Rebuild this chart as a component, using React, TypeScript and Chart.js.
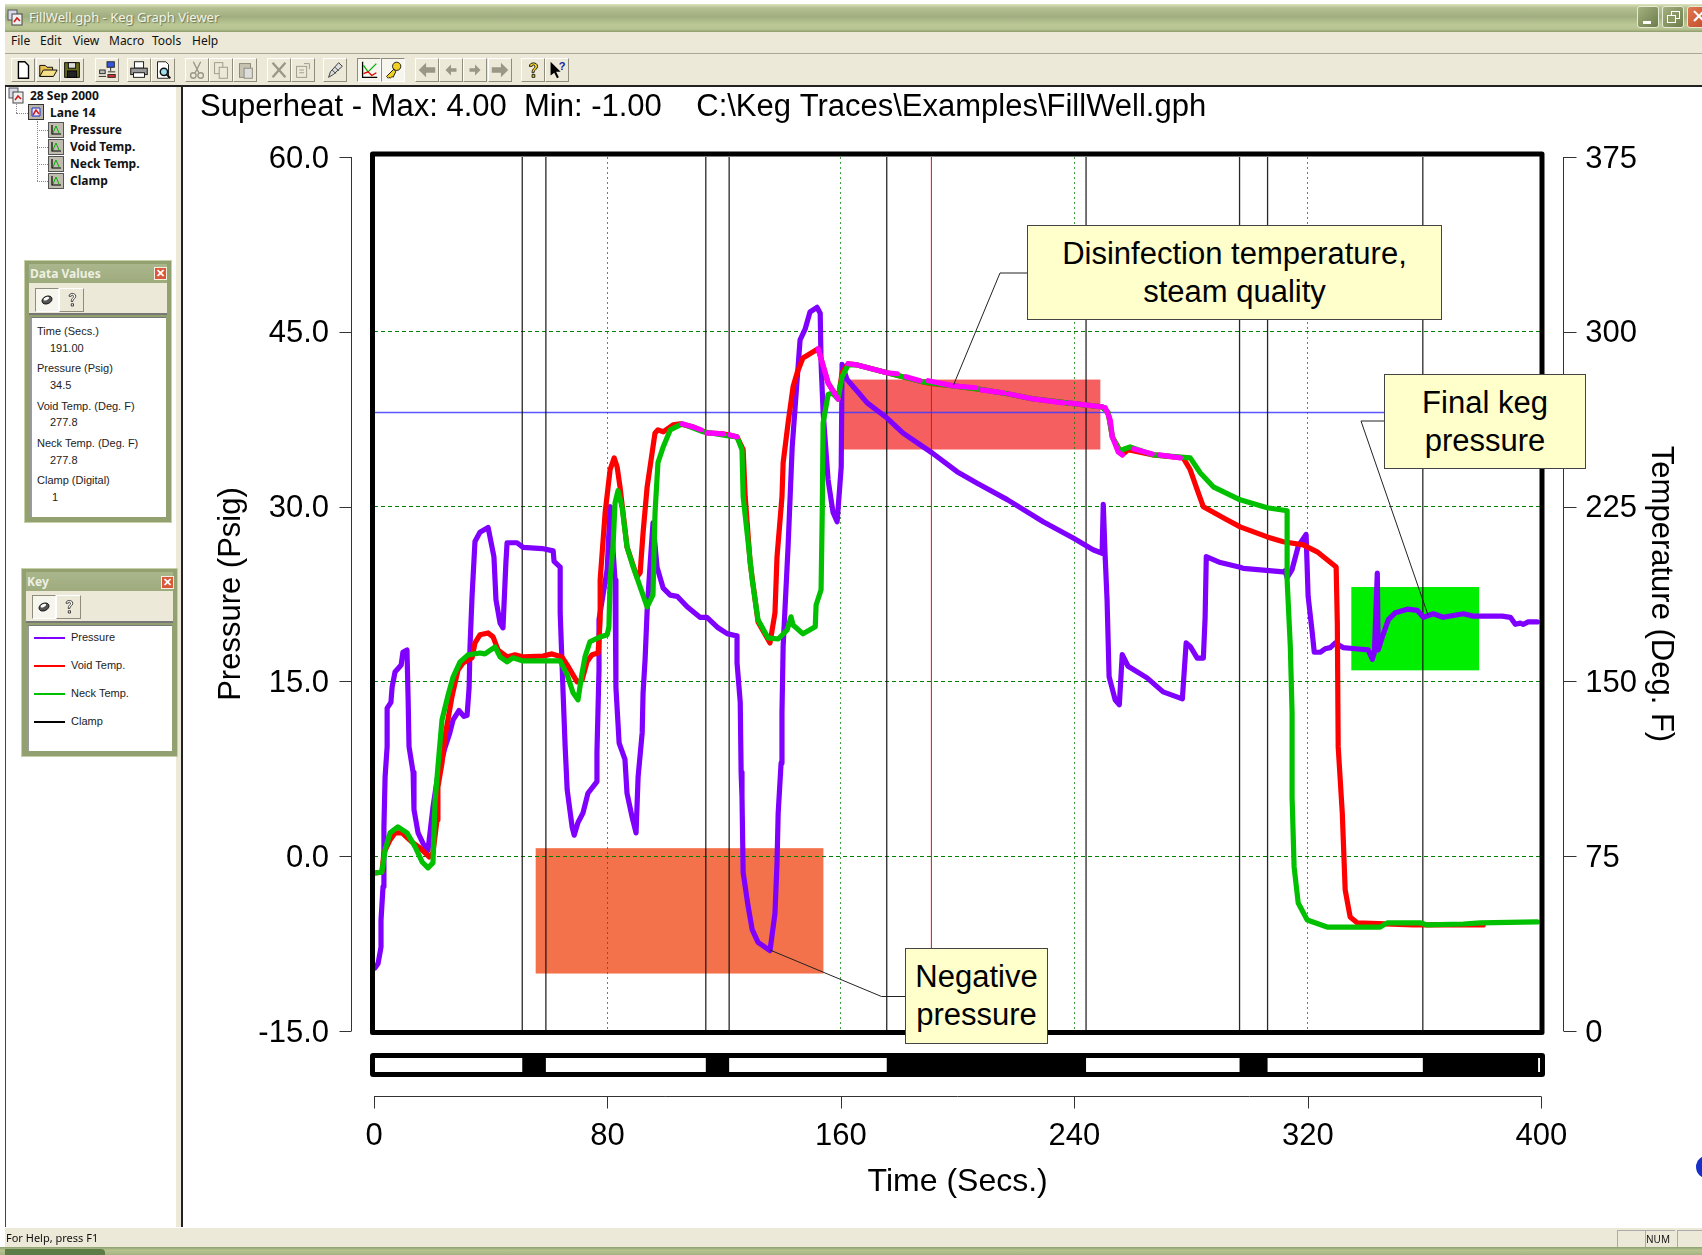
import React, { useEffect, useRef } from "react";
import { Chart, registerables } from "chart.js";

Chart.register(...registerables);

const pressureTime = [0.3,1.4,2.4,2.4,3.1,3.4,3.8,4.5,4.5,5.8,6.2,7.2,9.3,9.9,11.3,11.7,12,13.4,13.7,15.1,16.8,18.5,20.2,21.9,24.3,26,27.1,29.1,30.8,31.9,32.6,32.9,33.6,34.6,36.3,39.1,41.1,41.8,43.2,44.2,45.2,45.6,49,51.1,57.6,61.4,61.7,63.8,63.8,64.8,65.5,66.2,67.9,68.6,69.9,71.6,73.3,76.4,76.4,77.1,77.1,79.9,80.9,82.6,82.9,84,86,86.7,88.4,89.8,90.5,91.9,92.2,92.9,93.6,94.6,95.6,97,99.1,101.5,103.9,107.3,111.7,114.1,117.9,121,124.4,124.4,125.5,125.8,126.1,126.5,128.2,129.6,131.6,135.7,137.4,138.1,138.5,139.5,139.8,140.2,141.9,143.3,145,146,147.7,149.4,151.8,152.9,153.2,153.9,155.6,157.3,158.7,160.1,160.4,162.1,165.6,169,175.8,181.3,191.3,199.8,206.7,217,229.3,239.6,246.4,249.5,249.9,250.5,251.2,251.9,254,255.4,256.4,258.4,264.9,270.4,277,278.3,279.7,282.1,284.2,284.8,285.2,290,296.8,297.9,311.6,312.2,312.9,314.6,316.7,319.4,320.1,321.5,322.2,324.2,325.9,327.7,329.4,332.1,336.2,340.7,342.1,342.8,343.8,344.1,345.5,347.6,350,354.1,357.5,359.6,363,366.4,373.3,376.7,386.6,389.4,391.1,392.8,393.8,395.5,398.6];
const pressureValues = [-9.6,-9.2,-7.8,-5.5,-2.6,2.5,6.8,9.4,12.7,13.2,14.5,15.8,16.4,17.5,17.7,13.4,9.4,7.2,4,2,1.1,0.5,4.2,7,9.3,10.6,11.7,12.5,12,12.1,14.5,18,22.3,27,27.8,28.2,25.7,22,20,19.6,25.2,26.9,26.9,26.5,26.4,26.2,25.3,24.8,20.9,14,9.4,5.7,2.5,1.8,2.9,3.7,5.4,6.4,8.9,16,20.3,24.6,30,23.7,14.5,9.7,8.3,5.4,3.4,2,6.8,10.6,14,16.9,21.1,25,28.6,24.8,23,22.4,22.3,21.4,20.5,20.5,19.6,19.1,18.9,16.6,13.2,7.2,5.1,-1.4,-4.3,-6.3,-7.4,-8.1,-4.9,-0.6,3.7,8,12.3,18,26.6,35.1,40.9,44.3,45.2,46.7,47.1,46.6,42.3,38.1,32.3,29.5,28.7,33.4,42.2,40.9,39.9,38.9,37.6,36.3,34.6,33,32,30.6,28.7,27.3,26.3,26,30.2,26,22,15.4,13.4,13,17.3,16.3,15.3,14.1,13.5,18.3,18,17,17,20.5,25.7,25.2,24.8,24.7,24.4,24.5,23.9,24.6,26.6,27.6,22.3,19.2,17.5,17.5,17.8,17.9,18.3,17.9,17.8,17.7,16.9,17.5,24.3,17.7,18.8,20.3,20.9,21.2,21.1,20.5,20.8,20.5,20.8,20.6,20.6,20.5,19.9,20,19.9,20.1,20.1];

const voidTime = [0.3,2.7,3.4,5.5,7.2,9.6,13,15.8,18.9,20.2,21.6,21.9,23.3,24.3,26.7,28.8,30.5,33.6,34.6,36.3,39.1,40.8,42.5,45.6,48.3,51.1,57.9,61,64.4,66.2,69.6,71.3,73,74.7,76.8,77.5,77.5,79.2,80.9,82.3,83.3,84.3,86.7,90.1,91.2,92.2,93.6,95.3,96.3,97.3,99.1,102.5,104.9,109.3,114.1,119.6,124.4,126.5,127.2,128.9,130.6,131.6,135.7,137.4,138.1,139.8,140.2,141.9,143.6,145,147,152.2,153.6,155.6,159,160.4,162.5,165.6,175.8,188.2,191.3,198.5,206.7,217,225.9,237.5,249.5,251.6,253,256.4,258.4,267,277.3,279.7,282.1,284.2,291,296.8,306.1,311.6,318.4,323.2,329.7,330.1,330.4,331.8,332.8,334.5,336.9,356.1,380.1];
const voidValues = [67.8,68.2,76.4,82,85,85,81.1,78.5,74.7,76.4,90.6,104.7,115,126.2,143.3,154.9,157.9,160.1,166.5,170,170.8,169.1,163.5,160.5,161.4,160.5,160.9,161.8,160.5,157.1,149.8,150.6,158.4,161.4,162.2,176.4,193.6,222.3,240.8,245.9,242.1,233.5,207.7,194.8,196.6,213.7,233.5,248.1,256.6,257.9,257.1,260.1,260.5,259.2,256.6,256.2,254.9,249.4,229.2,200.9,185,175.5,166.5,179.4,203.4,229.2,243.8,260.9,276.4,282.4,288.8,292.7,286.7,278.1,271.2,282.4,286.3,285.8,282.4,278.5,277.7,276.8,275.5,273.4,271.2,269.5,267.8,265.2,254.9,247.2,249.4,247.2,245.9,240.8,232.2,224.9,220.2,216.3,212,209.9,208.6,205.6,199.1,175.1,121.9,93.6,60.5,48.9,46.4,45.5,45.5];

const neckTime = [0.3,2.7,3.8,5.5,8.2,11.3,14.1,16.5,18.5,20.2,20.9,21.9,23.3,25.4,27.1,29.5,32.2,36.3,38,41.5,43.2,45.6,47.6,51.1,63.8,66.2,68.2,69.9,71.3,72.3,74,77.5,79.9,80.5,80.9,81.9,82.6,83.6,85,86.7,88.8,93.6,95.6,96.3,97.3,99.1,101.5,105.6,112.8,121,124.4,126.1,126.5,129.6,131.6,135,138.5,141.6,142.9,143.6,147,151.2,151.5,153.2,153.6,153.9,155.6,157,159,160.4,162.5,165.6,175.8,188.2,198.5,206.7,217,225.9,237.5,249.5,251.6,253,255.7,256.4,259.1,267,279.7,283.1,287.6,296.8,306.1,312.9,312.9,314,314.6,314.6,315.3,316.7,319.8,326.6,344.8,347.2,358.5,360.9,373.3,379.1,398.6];
const neckValues = [67.8,68.2,77.7,85,87.6,85,79,72.5,70,72.1,97.9,113.3,133.5,144.2,151.9,158.4,161.4,162.2,161.8,164.8,160.5,158.4,160.1,158.8,158.8,152.8,145.1,142.1,153.6,160.5,167,169.1,170,173.4,193.6,207.7,226.6,231.8,224.9,207.7,199.1,182,187.1,222.3,243.8,250.6,257.9,260.5,257.1,255.4,254.9,249.4,229.2,193.6,176.4,168.7,168.2,172.1,177.7,174.2,170.4,173.4,182.8,189.3,222.3,260.9,273,273.8,271.2,280.7,285.8,285.8,282.4,278.5,276.8,275.5,273.4,271.2,269.5,267.8,265.2,254.9,248.5,249.4,250.6,247.2,245.9,239.5,233.5,227.9,224.5,223.2,193.6,164.8,136.5,100.4,70.4,54.9,47.6,44.6,44.6,46.4,46.4,45.5,45.9,46.4,46.8];

const superheatTime = [105.6,109.3,112.1,113,114.1,119.6,120.5,121.7,124.4,130,152.2,153.6,155.6,157.7,159,161,162.5,165.6,175.8,179.3,181,182.3,187.1,188.5,189.9,198.5,206.3,207,208.1,215.6,216.5,217.3,225.9,236.2,237,237.9,249.5,250,250.6,252.3,253,255,256.4,258,260.2,266.7,268,269.1,276.3];
const superheatValues = [260.5,259.2,257.9,null,256.6,256.2,null,255.8,254.9,null,292.7,286.7,278.1,273.8,271.2,null,286.3,285.8,282.4,282,null,280.7,279,null,279,276.8,276,null,275.1,273.8,null,273.4,271.2,269.5,null,269.5,267.8,null,267.4,262.2,254.9,248.5,247.2,null,249.8,247.6,null,247.2,245.9];

const clampTime = [0,50.8,58.9,113.7,121.7,175.7,244,296.6,306.2,359.4,398.9,400];
const clampState = [0,1,0,1,0,1,0,1,0,1,0,0];

const cursorTime = 191;
const finalPressureLine = 38.07;

const bandNames = ["Negative pressure", "Disinfection", "Final keg pressure"];
const bandTimeStart = [55.4, 160.3, 334.9];
const bandTimeEnd = [154, 248.9, 378.7];
const bandPressureLow = [-10.07, 34.9, 15.95];
const bandPressureHigh = [0.69, 40.9, 23.1];
const bandColors = ["#F4724B", "#F55F5F", "#00EE00"];

const pressureTicks = { min: -15, max: 60, step: 15 };
const temperatureTicks = { min: 0, max: 375, step: 75 };
const timeTicks = { min: 0, max: 400, step: 80 };

const zip = (xs: number[], ys: (number | null)[]) => xs.map((x, i) => ({ x, y: ys[i] }));

const SANS = '"Liberation Sans", Arial, sans-serif';
const UI = '"Noto Sans", Tahoma, sans-serif';
const BEIGE = "#ECE9D8";

const bandsPlugin = {
  id: "bands",
  beforeDraw(chart: any) {
    const { ctx, scales } = chart;
    bandNames.forEach((_, i) => {
      const x1 = scales.x.getPixelForValue(bandTimeStart[i]);
      const x2 = scales.x.getPixelForValue(bandTimeEnd[i]);
      const y1 = scales.y.getPixelForValue(bandPressureHigh[i]);
      const y2 = scales.y.getPixelForValue(bandPressureLow[i]);
      ctx.fillStyle = bandColors[i];
      ctx.fillRect(x1, y1, x2 - x1, y2 - y1);
    });
  },
};

const framePlugin = {
  id: "frame",
  afterDatasetsDraw(chart: any) {
    const { ctx, chartArea: a } = chart;
    ctx.save();
    ctx.strokeStyle = "#000";
    ctx.lineWidth = 5;
    ctx.lineJoin = "round";
    ctx.strokeRect(a.left - 1.5, a.top - 3, a.right - a.left + 2.2, a.bottom - a.top + 4.5);
    ctx.restore();
  },
  afterDraw(chart: any) {
    const { ctx, chartArea: a, scales } = chart;
    const lx = Math.round(a.left - 23) + 0.5;
    const rx = Math.round(a.right + 22) + 0.5;
    const by = Math.round(a.bottom + 65) + 0.5;
    ctx.save();
    ctx.strokeStyle = "#333";
    ctx.lineWidth = 1;
    ctx.beginPath();
    ctx.moveTo(lx, a.top);
    ctx.lineTo(lx, a.bottom);
    scales.y.ticks.forEach((t: any) => {
      const y = Math.round(scales.y.getPixelForValue(t.value)) + 0.5;
      ctx.moveTo(lx, y);
      ctx.lineTo(lx - 12, y);
    });
    ctx.moveTo(rx, a.top);
    ctx.lineTo(rx, a.bottom);
    scales.yTemp.ticks.forEach((t: any) => {
      const y = Math.round(scales.yTemp.getPixelForValue(t.value)) + 0.5;
      ctx.moveTo(rx, y);
      ctx.lineTo(rx + 13, y);
    });
    ctx.moveTo(a.left, by);
    ctx.lineTo(a.right, by);
    scales.x.ticks.forEach((t: any) => {
      const x = Math.round(scales.x.getPixelForValue(t.value)) + 0.5;
      ctx.moveTo(x, by);
      ctx.lineTo(x, by + 12);
    });
    ctx.stroke();
    ctx.restore();
  },
};

const abs = (left: number, top: number, width: number, height: number, extra: any = {}): any => ({
  position: "absolute", left, top, width, height, boxSizing: "border-box", ...extra,
});

function Label({ x, y, text, size = 12, bold = false, color = "#111", font = UI, shadow }: any) {
  return (
    <div style={{ position: "absolute", left: x, top: y, transform: "translateY(-50%)", whiteSpace: "pre", fontFamily: font, fontSize: size, fontWeight: bold ? 700 : 400, color, lineHeight: 1.2, textShadow: shadow }}>
      {text}
    </div>
  );
}

const raised = { background: BEIGE, borderTop: "1px solid #fff", borderLeft: "1px solid #fff", borderBottom: "1px solid #8f8c7c", borderRight: "1px solid #8f8c7c" };
const pressed = { background: "#F6F5EE", borderTop: "1px solid #8f8c7c", borderLeft: "1px solid #8f8c7c", borderBottom: "1px solid #fff", borderRight: "1px solid #fff" };

const icons: Record<string, any> = {
  new: <path d="M7 3h7l4 4v14H7z" fill="#fff" stroke="#000" strokeWidth="1.5" />,
  open: <g stroke="#000"><path d="M3 19V7h6l2 2h6v10z" fill="#E8C050" /><path d="M3 19l4-7h15l-4 7z" fill="#F6E08A" /></g>,
  save: <g stroke="#000"><rect x="4" y="4" width="16" height="16" fill="#6B6B20" /><rect x="8" y="4" width="8" height="6" fill="#ddd" /><rect x="7" y="13" width="10" height="7" fill="#222" /></g>,
  net: <g stroke="#222"><rect x="12" y="3" width="8" height="6" fill="#3355dd" /><rect x="4" y="12" width="6" height="4" fill="#bbb" /><path d="M16 9v4M3 19h8M13 14h8" /><rect x="13" y="17" width="8" height="3" fill="#d33" /></g>,
  print: <g stroke="#111"><rect x="7" y="3" width="10" height="7" fill="#fff" /><rect x="3" y="10" width="18" height="7" fill="#999" /><rect x="6" y="15" width="12" height="5" fill="#fff" /></g>,
  preview: <g stroke="#111"><path d="M6 3h9l3 3v15H6z" fill="#fff" /><circle cx="13" cy="14" r="4" fill="#9fe0ee" strokeWidth="1.6" /><path d="M16 17l4 4" strokeWidth="2" /></g>,
  cut: <g stroke="#9a9786" fill="none" strokeWidth="1.5"><path d="M8 3l6 12M16 3l-6 12" /><circle cx="8" cy="18" r="3" /><circle cx="16" cy="18" r="3" /></g>,
  copy: <g stroke="#9a9786" fill="#ECE9D8"><rect x="5" y="4" width="9" height="12" /><rect x="10" y="9" width="9" height="12" /></g>,
  paste: <g stroke="#8a8776" fill="#c6c3b2"><rect x="6" y="5" width="12" height="15" /><rect x="11" y="10" width="9" height="11" fill="#ddd" /></g>,
  del: <path d="M5 4l14 16M19 4L5 20" stroke="#9a9786" strokeWidth="2.5" />,
  props: <g stroke="#9a9786" fill="#ECE9D8"><rect x="5" y="8" width="11" height="12" /><path d="M13 5l6 0 0 6" fill="none" /><path d="M8 12h5M8 15h5" /></g>,
  pencil: <g stroke="#333" fill="#ddd"><path d="M5 20l2-6L16 4l4 4-10 9z" /><path d="M9 12l4 4M12 9l4 4" /></g>,
  chart: <g fill="none" strokeWidth="1.4"><path d="M5 3v17h16" stroke="#000" /><path d="M6 7l5 7 3-3 6-6" stroke="#00b000" /><path d="M6 16l5-2 4 4 5-3" stroke="#e00000" /></g>,
  key: <g stroke="#111"><circle cx="16" cy="8" r="4.5" fill="#F0D020" /><path d="M13 11L5 19l2 2 1-1 1 1 2-2 1 1 3-6z" fill="#F0D020" /></g>,
  arrowL2: <path d="M3 12l8-8v5h10v6H11v5z" fill="#9a9786" />,
  arrowL: <path d="M6 12l6-6v4h6v4h-6v4z" fill="#9a9786" />,
  arrowR: <path d="M18 12l-6-6v4H6v4h6v4z" fill="#9a9786" />,
  arrowR2: <path d="M21 12l-8-8v5H3v6h10v5z" fill="#9a9786" />,
  help: <path d="M8 8c0-5 9-5 9 0 0 4-4 3-4 7h-2c0-5 3-4 3-7 0-2-3-2-3 0zM11 17h3v3h-3z" fill="#F0D020" stroke="#111" />,
  helpArrow: <g><path d="M5 3v15l4-3 3 6 2-1-3-6h5z" fill="#000" /><text x="14" y="12" fontSize="12" fontWeight="700" fill="#1020a0" fontFamily={SANS}>?</text></g>,
  blob: <g><ellipse cx="12" cy="12" rx="7" ry="5" fill="#555" stroke="#000" transform="rotate(-25 12 12)" /><ellipse cx="12" cy="10" rx="4" ry="2" fill="#fff" transform="rotate(-25 12 12)" /></g>,
  tip: <path d="M8 7c0-5 9-5 9 0 0 4-4 3-4 7h-2c0-5 3-4 3-7 0-2-3-2-3 0zM11 17h3v3h-3z" fill="#fff" stroke="#111" />,
};

function Button({ x, y = 58, w = 24, h = 24, icon, down = false, size = 22 }: any) {
  return (
    <div style={{ ...abs(x, y, w, h), ...(down ? pressed : raised), display: "flex", alignItems: "center", justifyContent: "center" }}>
      <svg width={size} height={size} viewBox="0 0 24 24">{icons[icon]}</svg>
    </div>
  );
}

const toolbar: [number, string, boolean?][] = [
  [11, "new"], [36, "open"], [60, "save"], [95, "net"], [127, "print"], [151, "preview"],
  [185, "cut"], [209, "copy"], [233, "paste"], [267, "del"], [291, "props"], [323, "pencil"],
  [357, "chart", true], [381, "key", true], [415, "arrowL2"], [439, "arrowL"], [463, "arrowR"], [488, "arrowR2"],
  [521, "help"], [545, "helpArrow"],
];

function CloseBox({ x, y, w = 13, h = 13 }: any) {
  return (
    <div style={{ ...abs(x, y, w, h), background: "#D9583A", border: "1px solid #f4f0e0", color: "#fff", fontFamily: SANS, fontWeight: 700, fontSize: 11, lineHeight: "11px", textAlign: "center" }}>✕</div>
  );
}

function Panel({ x, y, w, h, title, headerH, barH, close, children }: any) {
  return (
    <div style={{ ...abs(x, y, w, h), background: "#93A070", border: "1px solid #C8D0A8" }}>
      <div style={abs(4, 3, w - 10, headerH, { background: "linear-gradient(#AAB68C,#9DAA7C)" })} />
      <div style={abs(4, headerH + 2, w - 10, barH, { background: BEIGE, borderBottom: "2px solid #777" })} />
      <Label x={5} y={headerH / 2 + 3} text={title} bold color="#EEF0E2" size={12} />
      <div style={abs(5, headerH + barH + 4, w - 12, h - headerH - barH - 11, { background: "#fff", borderLeft: "2px solid #9a9a9a", borderTop: "1px solid #777" })}>{children}</div>
      {close}
    </div>
  );
}

function TreeIcon({ x, y, kind }: any) {
  return (
    <svg style={{ position: "absolute", left: x, top: y }} width={17} height={17} viewBox="0 0 17 17">
      {kind === "leaf" ? (
        <g>
          <rect x="0.5" y="0.5" width="15" height="15" fill="#C0BDB0" stroke="#555" />
          <path d="M4 3v9h9" fill="none" stroke="#000" strokeWidth="1.2" />
          <path d="M5 11l3-7 3 7" fill="none" stroke="#00B000" />
        </g>
      ) : kind === "lane" ? (
        <g>
          <rect x="0.5" y="0.5" width="15" height="15" fill="#B8B5A8" stroke="#333" />
          <path d="M4 4h8v8H4z" fill="#E8E8F8" stroke="#2030C0" />
          <path d="M5 11l3-5 3 4" fill="none" stroke="#D01818" strokeWidth="1.5" />
        </g>
      ) : (
        <g>
          <rect x="1" y="1" width="9" height="10" fill="#D8D8E8" stroke="#555" />
          <rect x="5" y="5" width="10" height="11" fill="#F0F0F0" stroke="#444" />
          <path d="M7 13l3-4 3 3" fill="none" stroke="#D01818" strokeWidth="1.5" />
        </g>
      )}
    </svg>
  );
}

const treeItems = ["Pressure", "Void Temp.", "Neck Temp.", "Clamp"];
const readouts: [string, string, number, number, number][] = [
  ["Time (Secs.)", "191.00", 332, 349, 50],
  ["Pressure (Psig)", "34.5", 369, 386, 50],
  ["Void Temp. (Deg. F)", "277.8", 407, 423, 50],
  ["Neck Temp. (Deg. F)", "277.8", 444, 461, 50],
  ["Clamp (Digital)", "1", 481, 498, 52],
];
const keyItems: [string, string, number][] = [
  ["Pressure", "#8000FF", 638],
  ["Void Temp.", "#FF0000", 666],
  ["Neck Temp.", "#00C000", 694],
  ["Clamp", "#000000", 722],
];

function Callout({ x, y, w, h, lines }: any) {
  return (
    <div style={{ ...abs(x, y, w, h), background: "#FFFFCC", border: "1px solid #444", display: "flex", flexDirection: "column", alignItems: "center", justifyContent: "center", fontFamily: SANS, fontSize: 31, lineHeight: "38px", color: "#000", whiteSpace: "pre" }}>
      {lines.map((l: string) => <div key={l}>{l}</div>)}
    </div>
  );
}

export default function App() {
  const mainRef = useRef<HTMLCanvasElement>(null);
  const clampRef = useRef<HTMLCanvasElement>(null);

  useEffect(() => {
    const tickFont = { family: SANS, size: 31 };
    const edgeTimes = clampTime.slice(1, 10);
    const clampLines: any[] = [];
    edgeTimes.forEach((t) => {
      clampLines.push({ x: t, y: pressureTicks.min }, { x: t, y: pressureTicks.max }, { x: t, y: null });
    });
    const line = (label: string, data: any[], color: string, order: number, axis: string, width = 5.2) => ({
      label, data, borderColor: color, backgroundColor: color, yAxisID: axis, order,
      borderWidth: width, pointRadius: 0, tension: 0, fill: false,
      borderJoinStyle: "round" as const, borderCapStyle: "round" as const,
    });
    const main = new Chart(mainRef.current as HTMLCanvasElement, {
      type: "line",
      data: {
        datasets: [
          line("Superheat", zip(superheatTime, superheatValues), "#FF00FF", 1, "yTemp"),
          line("Neck Temp.", zip(neckTime, neckValues), "#00C000", 2, "yTemp"),
          line("Void Temp.", zip(voidTime, voidValues), "#FF0000", 3, "yTemp"),
          line("Pressure", zip(pressureTime, pressureValues), "#8000FF", 4, "y"),
          line("Cursor", [{ x: cursorTime, y: pressureTicks.min }, { x: cursorTime, y: pressureTicks.max }], "#FF0000", 5, "y", 1),
          line("Clamp", clampLines, "rgba(15,15,15,0.9)", 6, "y", 1.3),
          line("Final pressure", [{ x: timeTicks.min, y: finalPressureLine }, { x: timeTicks.max, y: finalPressureLine }], "rgba(60,60,255,0.85)", 7, "y", 1.5),
        ],
      },
      options: {
        animation: false,
        responsive: false,
        events: [],
        layout: { padding: { left: 17, top: 0, right: 0, bottom: 0 } },
        plugins: {
          legend: { display: false },
          tooltip: { enabled: false },
          title: {
            display: true,
            align: "start",
            text: "Superheat - Max: 4.00  Min: -1.00    C:\\Keg Traces\\Examples\\FillWell.gph",
            color: "#000",
            font: { family: SANS, size: 31, weight: "normal", lineHeight: 1.2 },
            padding: { top: 3, bottom: 30.8 },
          },
        },
        scales: {
          x: {
            type: "linear",
            min: timeTicks.min,
            max: timeTicks.max,
            afterFit: (s: any) => { s.height = 196; },
            ticks: { stepSize: timeTicks.step, color: "#000", font: tickFont, padding: 87, maxRotation: 0, autoSkip: false },
            grid: {
              drawTicks: false,
              color: (c: any) => (c.tick && (c.tick.value === timeTicks.min || c.tick.value === timeTicks.max) ? "rgba(0,0,0,0)" : "rgba(0,128,0,0.75)"),
              lineWidth: 1,
            },
            border: { display: false, dash: [2, 3] },
            title: { display: true, text: "Time (Secs.)", color: "#000", font: { family: SANS, size: 32 }, padding: { top: 0, bottom: 26 } },
          },
          y: {
            type: "linear",
            position: "left",
            min: pressureTicks.min,
            max: pressureTicks.max,
            afterFit: (s: any) => { s.width = 174; },
            ticks: { stepSize: pressureTicks.step, color: "#000", font: tickFont, padding: 45, labelOffset: 2, callback: (v: any) => Number(v).toFixed(1) },
            grid: {
              drawTicks: false,
              color: (c: any) => (c.tick && (c.tick.value === pressureTicks.min || c.tick.value === pressureTicks.max) ? "rgba(0,0,0,0)" : "#008000"),
              lineWidth: 1,
            },
            border: { display: false, dash: [4, 3] },
            title: { display: true, text: "Pressure (Psig)", color: "#000", font: tickFont, padding: { top: 13, bottom: 0 } },
          },
          yTemp: {
            type: "linear",
            position: "right",
            min: temperatureTicks.min,
            max: temperatureTicks.max,
            afterFit: (s: any) => { s.width = 160.7; },
            ticks: { stepSize: temperatureTicks.step, color: "#000", font: tickFont, padding: 44, labelOffset: 2, callback: (v: any) => String(v) },
            grid: { display: false, drawTicks: false },
            border: { display: false },
            title: { display: true, text: "Temperature (Deg. F)", color: "#000", font: tickFont, padding: { top: 23, bottom: 0 } },
          },
        },
      } as any,
      plugins: [bandsPlugin, framePlugin],
    });

    const clamp = new Chart(clampRef.current as HTMLCanvasElement, {
      type: "line",
      data: {
        datasets: [{
          label: "Clamp",
          data: zip(clampTime, clampState),
          stepped: true,
          fill: "origin",
          backgroundColor: "#000",
          borderColor: "#000",
          borderWidth: 0,
          pointRadius: 0,
        }],
      },
      options: {
        animation: false,
        responsive: false,
        events: [],
        layout: { padding: { left: 4, right: 3.7, top: 5, bottom: 5 } },
        plugins: { legend: { display: false }, tooltip: { enabled: false }, title: { display: false } },
        scales: {
          x: { type: "linear", display: false, min: timeTicks.min, max: timeTicks.max },
          y: { type: "linear", display: false, min: 0, max: 1 },
        },
      } as any,
    });

    return () => {
      main.destroy();
      clamp.destroy();
    };
  }, []);

  return (
    <div style={{ position: "fixed", left: 0, top: 0, width: 1702, height: 1255, overflow: "hidden", background: "#fff" }}>
      {/* title bar */}
      <div style={abs(5, 4, 1697, 28, { background: "linear-gradient(#DCE4BC 0%,#B4C092 14%,#A0AE80 45%,#BCC896 75%,#B6C290 90%,#8E9C6C 100%)" })} />
      <TreeIcon x={7} y={9} kind="root" />
      <Label x={29} y={18} text="FillWell.gph - Keg Graph Viewer" size={13} color="#F4F4E8" shadow="1px 1px 1px #6a7550" />
      <div style={{ ...abs(1637, 6, 22, 22), background: "linear-gradient(135deg,#A3B07F,#6E7C4C)", border: "1px solid #E6EBD6", borderRadius: 3 }}>
        <div style={abs(5, 14, 8, 3, { background: "#fff" })} />
      </div>
      <div style={{ ...abs(1662, 6, 22, 22), background: "linear-gradient(135deg,#A3B07F,#6E7C4C)", border: "1px solid #E6EBD6", borderRadius: 3 }}>
        <div style={abs(8, 4, 9, 8, { border: "1px solid #fff" })} />
        <div style={abs(4, 8, 9, 8, { border: "1px solid #fff", background: "#8A9866" })} />
      </div>
      <div style={{ ...abs(1687, 6, 22, 22), background: "linear-gradient(135deg,#E07850,#C04A28)", border: "1px solid #E6EBD6", borderRadius: 3, color: "#fff", fontFamily: SANS, fontSize: 19, lineHeight: "19px", paddingLeft: 3 }}>✕</div>

      {/* menu and tool bars */}
      <div style={abs(5, 32, 1697, 54, { background: BEIGE })} />
      <div style={abs(5, 53, 1697, 1, { background: "#ACA899" })} />
      <div style={abs(5, 85, 1697, 2, { background: "#222" })} />
      {[["File", 11], ["Edit", 40], ["View", 73], ["Macro", 109], ["Tools", 152], ["Help", 192]].map(([t, x]) => (
        <Label key={t as string} x={x} y={41} text={t} size={12} />
      ))}
      {toolbar.map(([x, icon, down]) => <Button key={icon} x={x} icon={icon} down={down} />)}

      {/* left column */}
      <div style={abs(5, 87, 1, 1140, { background: "#444" })} />
      <div style={abs(176, 87, 5, 1140, { background: BEIGE })} />
      <div style={abs(181, 87, 2, 1140, { background: "#222" })} />
      <TreeIcon x={8} y={87} kind="root" />
      <TreeIcon x={28} y={104} kind="lane" />
      <div style={abs(16, 104, 1, 9, { borderLeft: "1px dotted #888" })} />
      <div style={abs(16, 113, 12, 1, { borderTop: "1px dotted #888" })} />
      <div style={abs(37, 121, 1, 60, { borderLeft: "1px dotted #888" })} />
      <Label x={30} y={96} text="28 Sep 2000" bold />
      <Label x={50} y={113} text="Lane 14" bold />
      {treeItems.map((t, i) => (
        <React.Fragment key={t}>
          <div style={abs(37, 130 + i * 17, 11, 1, { borderTop: "1px dotted #888" })} />
          <TreeIcon x={48} y={122 + i * 17} kind="leaf" />
          <Label x={70} y={130 + i * 17} text={t} bold />
        </React.Fragment>
      ))}

      {/* Data Values panel */}
      <Panel x={24} y={260} w={148} h={263} title="Data Values" headerH={20} barH={32} close={<CloseBox x={129} y={6} />} />
      <Button x={35} y={288} w={24} h={24} icon="blob" down size={18} />
      <Button x={59} y={288} w={25} h={24} icon="tip" size={18} />
      {readouts.map(([name, val, y1, y2, x2]) => (
        <React.Fragment key={name}>
          <Label x={37} y={y1} text={name} size={11} font={SANS} color="#222" />
          <Label x={x2} y={y2} text={val} size={11} font={SANS} color="#222" />
        </React.Fragment>
      ))}

      {/* Key panel */}
      <Panel x={21} y={568} w={157} h={189} title="Key" headerH={20} barH={32} close={<CloseBox x={139} y={7} />} />
      <Button x={32} y={595} w={24} h={24} icon="blob" down size={18} />
      <Button x={56} y={595} w={25} h={24} icon="tip" size={18} />
      {keyItems.map(([name, color, y]) => (
        <React.Fragment key={name}>
          <div style={abs(34, y - 1, 31, 2, { background: color })} />
          <Label x={71} y={y} text={name} size={11} font={SANS} color="#222" />
        </React.Fragment>
      ))}

      {/* chart */}
      <canvas ref={mainRef} width={1519} height={1141} style={{ position: "absolute", left: 183, top: 86, display: "block" }} />
      <div style={abs(370, 1053, 1175, 24, { background: "#fff", border: "5px solid #000", borderRadius: 3 })} />
      <canvas ref={clampRef} width={1175} height={24} style={{ position: "absolute", left: 370, top: 1053, display: "block" }} />

      {/* callouts */}
      <svg style={{ position: "absolute", left: 0, top: 0 }} width={1702} height={1255}>
        <polyline points="1027,273 1000,273 953.5,385" fill="none" stroke="#222" strokeWidth="1" />
        <polyline points="1384,421 1361,421 1428,615" fill="none" stroke="#222" strokeWidth="1" />
        <polyline points="770,950 881.5,996.5 905,996.5" fill="none" stroke="#222" strokeWidth="1" />
      </svg>
      <Callout x={1027} y={225} w={415} h={95} lines={["Disinfection temperature,", "steam quality"]} />
      <Callout x={1384} y={374} w={202} h={95} lines={["Final keg", "pressure"]} />
      <Callout x={905} y={948} w={143} h={96} lines={["Negative", "pressure"]} />
      <div style={{ ...abs(1696, 1155, 26, 24), background: "#1830C8", borderRadius: "50%" }} />

      {/* status bar */}
      <div style={abs(5, 1227, 1697, 20, { background: BEIGE, borderTop: "1px solid #fff" })} />
      <Label x={6} y={1238} text="For Help, press F1" size={11} />
      <div style={abs(1617, 1230, 28, 17, { borderTop: "1px solid #aaa", borderLeft: "1px solid #aaa" })} />
      <div style={abs(1645, 1230, 30, 17, { borderTop: "1px solid #aaa", borderLeft: "1px solid #aaa" })} />
      <div style={abs(1677, 1230, 25, 17, { borderTop: "1px solid #aaa", borderLeft: "1px solid #aaa" })} />
      <Label x={1646} y={1239} text="NUM" size={10} />
      <div style={abs(0, 1247, 1702, 8, { background: "linear-gradient(#8FA070,#B6C490 40%,#A4B280)" })} />
      <div style={abs(5, 1249, 100, 6, { background: "#5C7C48", borderRadius: "0 4px 0 0" })} />
    </div>
  );
}
